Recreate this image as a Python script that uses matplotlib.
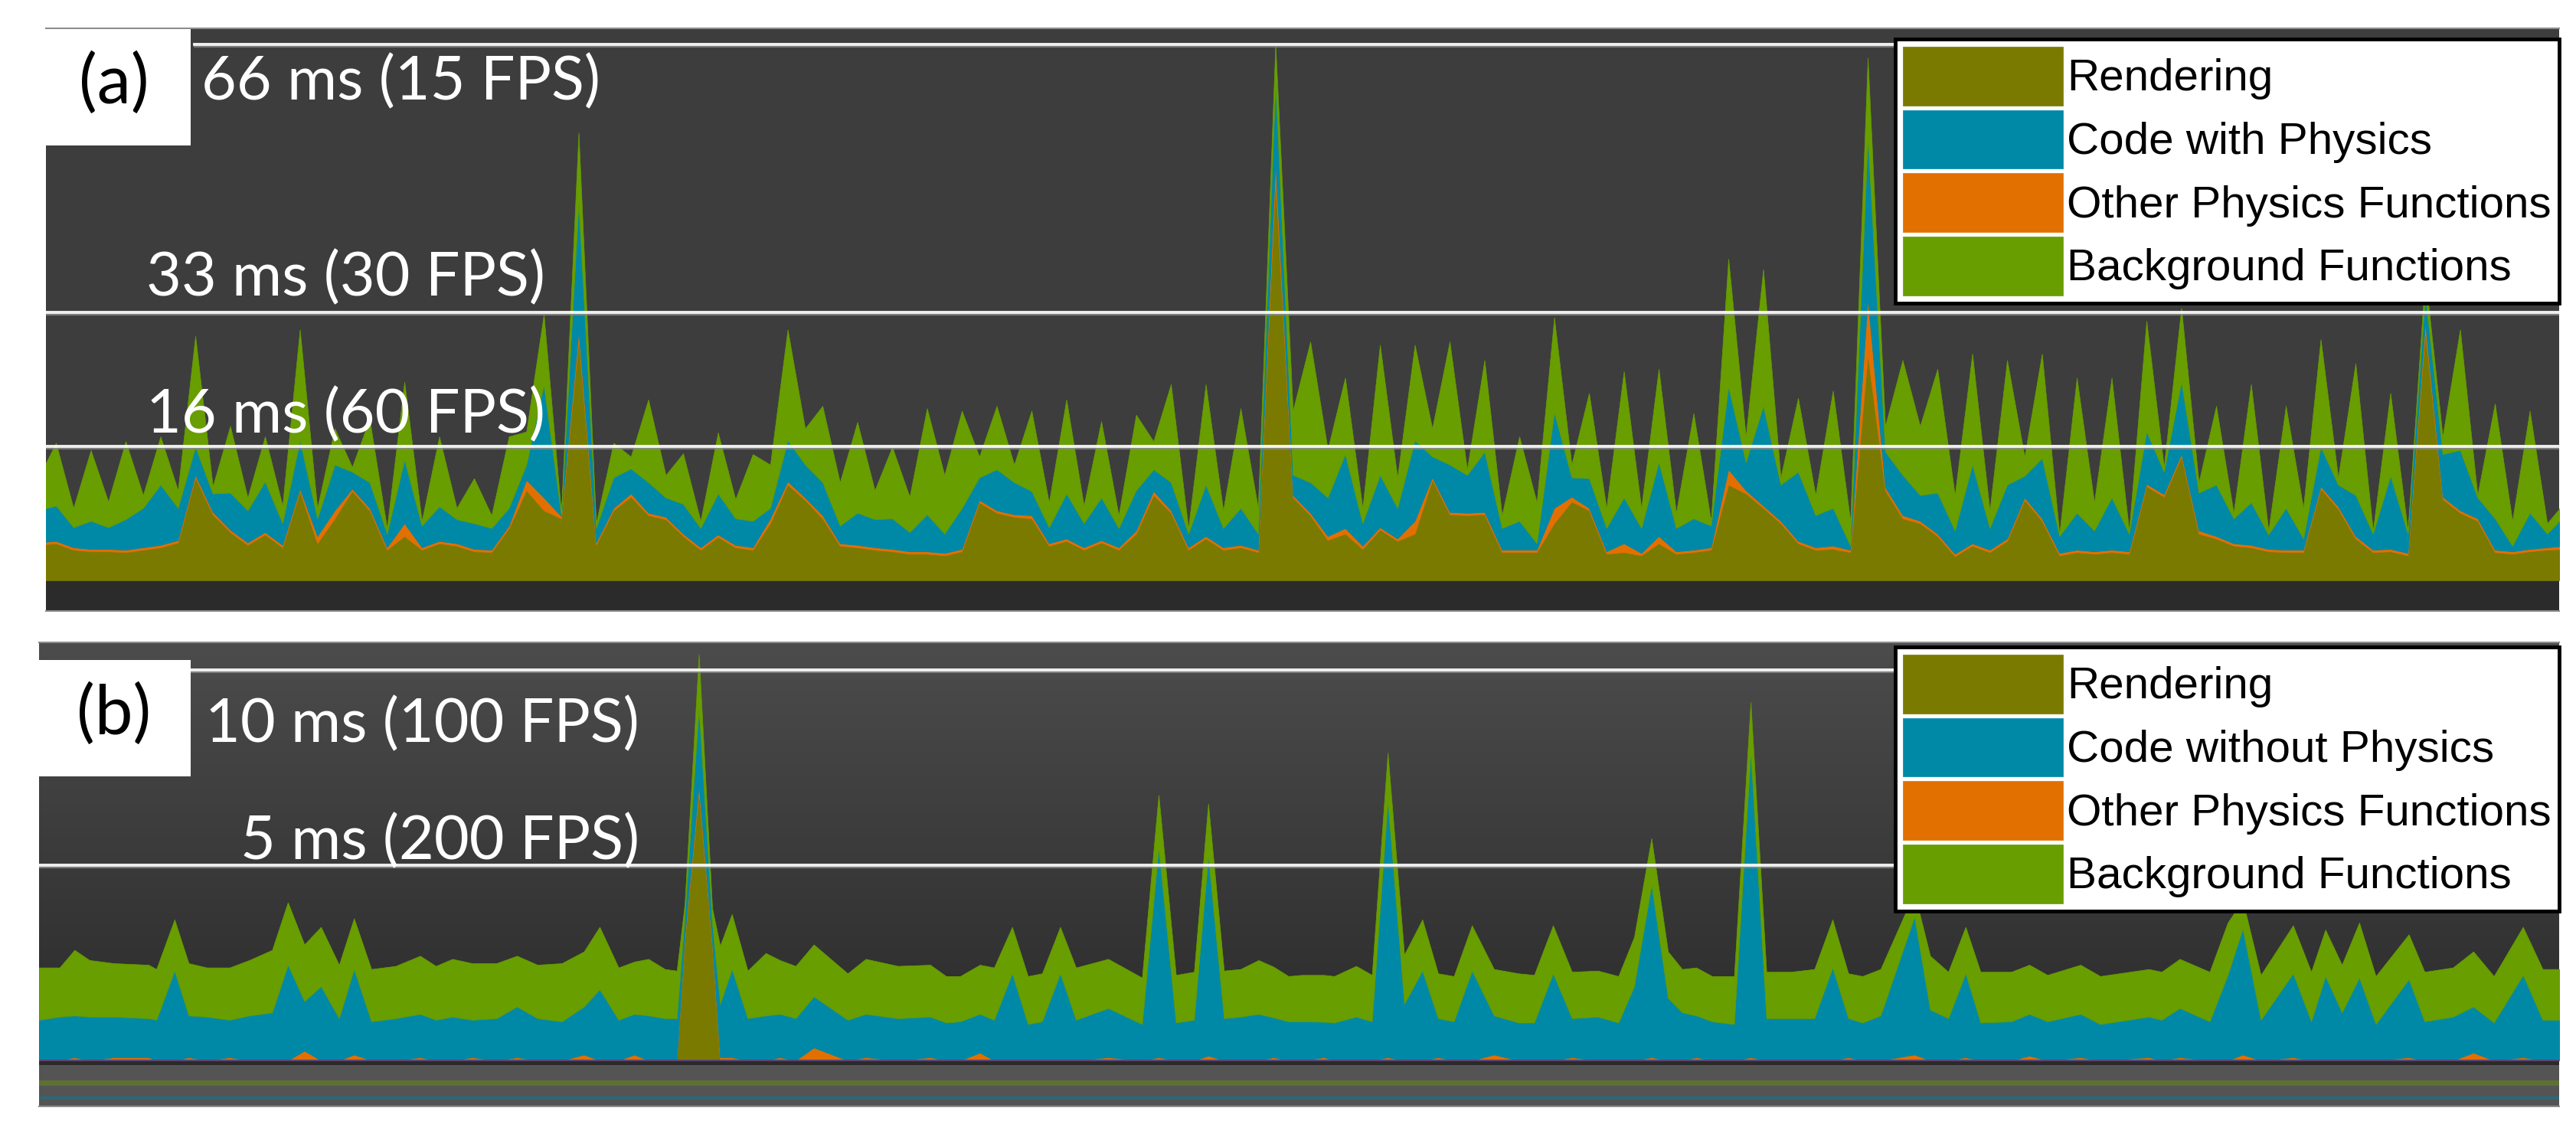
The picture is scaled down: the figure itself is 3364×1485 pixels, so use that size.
import numpy as np
import matplotlib
matplotlib.use("Agg")
import matplotlib.pyplot as plt
from matplotlib.colors import LinearSegmentedColormap
from matplotlib.patches import Rectangle

# ---- panel (a): frame times in ms, stacked tops (rendering, +other physics, +code, +background)
frames_a = np.arange(146)
rendering_a = [4.4, 4.6, 3.8, 3.6, 3.6, 3.5, 3.8, 4.1, 4.7, 12.8,
               8.2, 6.0, 4.4, 5.7, 4.1, 11.1, 4.6, 7.7, 11.1, 8.7,
               3.8, 5.5, 3.8, 4.6, 4.3, 3.6, 3.5, 6.5, 11.2, 8.7,
               7.7, 30.0, 4.4, 8.7, 10.4, 8.1, 7.6, 5.5, 3.8, 5.4,
               4.1, 3.8, 7.1, 11.9, 10.0, 7.7, 4.3, 4.1, 3.8, 3.6,
               3.3, 3.3, 3.1, 3.6, 9.7, 8.4, 7.9, 7.7, 4.3, 4.9,
               3.8, 4.7, 3.8, 5.8, 10.6, 8.4, 3.8, 5.2, 3.8, 4.1,
               3.5, 50.0, 10.3, 8.1, 5.0, 5.8, 3.9, 6.3, 4.9, 5.8,
               12.5, 8.2, 8.1, 8.2, 3.5, 3.5, 3.5, 7.1, 9.8, 8.7,
               3.3, 3.5, 3.1, 4.6, 3.3, 3.5, 3.8, 11.9, 10.8, 9.0,
               7.1, 4.6, 3.8, 3.9, 3.5, 28.0, 11.2, 7.7, 7.1, 5.5,
               3.0, 4.3, 3.5, 4.9, 10.0, 7.4, 3.1, 3.5, 3.3, 3.5,
               3.3, 11.7, 10.4, 15.4, 5.8, 5.2, 4.3, 4.1, 3.6, 3.5,
               3.5, 11.4, 8.9, 5.2, 3.5, 3.6, 3.1, 31.0, 10.1, 8.4,
               7.4, 3.5, 3.3, 3.6, 3.8, 3.9]
other_a = [4.7, 4.9, 4.1, 3.9, 3.9, 3.8, 4.1, 4.4, 5.0, 13.1,
           8.5, 6.3, 4.7, 6.0, 4.4, 11.4, 5.5, 8.7, 11.4, 9.0,
           4.1, 7.1, 4.1, 4.9, 4.6, 3.9, 3.8, 6.8, 12.5, 10.3,
           8.0, 31.0, 4.7, 9.0, 10.8, 8.4, 7.9, 5.8, 4.1, 5.7,
           4.4, 4.1, 7.7, 12.3, 10.3, 8.1, 4.6, 4.4, 4.1, 3.9,
           3.6, 3.6, 3.4, 3.9, 10.0, 8.7, 8.2, 8.1, 4.6, 5.2,
           4.1, 5.0, 4.1, 6.2, 11.1, 8.7, 4.1, 5.5, 4.1, 4.4,
           3.8, 52.0, 10.6, 8.4, 5.5, 6.5, 4.3, 6.6, 5.2, 7.4,
           12.8, 8.5, 8.4, 8.5, 3.8, 3.8, 3.8, 9.0, 10.4, 9.0,
           3.6, 4.6, 3.4, 5.5, 3.6, 3.8, 4.1, 13.8, 11.2, 9.3,
           7.4, 4.9, 4.1, 4.3, 3.8, 35.0, 11.6, 8.1, 7.4, 5.8,
           3.3, 4.6, 3.8, 5.2, 10.3, 7.7, 3.4, 3.8, 3.6, 3.8,
           3.6, 12.0, 10.7, 15.7, 6.2, 5.5, 4.6, 4.4, 3.9, 3.8,
           3.8, 11.7, 9.2, 5.5, 3.8, 3.9, 3.4, 32.0, 10.4, 8.7,
           7.7, 3.8, 3.6, 3.9, 4.1, 4.3]
code_a = [8.7, 9.3, 6.6, 7.4, 6.6, 7.6, 9.0, 11.9, 9.0, 16.6,
          10.8, 10.9, 8.7, 12.3, 7.1, 17.4, 7.7, 14.4, 13.5, 12.2,
          5.8, 15.0, 6.8, 9.2, 7.6, 7.1, 6.5, 9.0, 14.4, 24.3,
          8.1, 47.0, 6.5, 12.8, 13.9, 12.2, 10.3, 9.5, 6.5, 10.8,
          7.7, 7.4, 9.0, 17.4, 14.4, 12.2, 6.8, 8.4, 7.6, 7.7,
          6.0, 8.2, 5.8, 9.0, 12.8, 13.8, 12.2, 11.1, 6.6, 10.8,
          7.1, 10.3, 6.5, 11.2, 13.8, 12.2, 5.8, 11.9, 6.5, 9.0,
          5.8, 62.0, 13.1, 12.2, 10.3, 15.7, 7.1, 13.1, 9.0, 17.4,
          15.4, 14.4, 13.1, 16.0, 6.5, 7.4, 4.6, 20.9, 12.8, 12.7,
          6.5, 10.3, 6.5, 14.7, 6.5, 7.7, 6.8, 24.1, 14.7, 21.7,
          11.9, 13.5, 8.1, 9.0, 4.3, 55.0, 16.0, 13.1, 10.6, 10.9,
          6.2, 14.4, 6.5, 11.9, 13.0, 15.2, 5.5, 8.4, 6.2, 10.3,
          5.8, 18.5, 13.5, 24.7, 10.9, 11.9, 7.7, 9.7, 5.7, 9.0,
          5.2, 16.6, 11.9, 10.6, 5.8, 13.0, 5.8, 35.5, 15.7, 16.2,
          10.3, 7.7, 4.3, 8.4, 5.8, 8.1]
total_a = [12.8, 17.1, 9.0, 16.2, 9.8, 17.3, 10.6, 17.9, 11.2, 30.4,
           11.7, 19.2, 10.3, 17.9, 9.3, 31.2, 9.0, 18.9, 14.1, 20.1,
           6.5, 24.7, 7.4, 17.9, 9.0, 12.7, 8.1, 17.9, 18.5, 33.1,
           8.4, 55.7, 7.1, 17.1, 15.4, 22.5, 13.1, 15.8, 7.4, 18.4,
           10.1, 15.7, 14.4, 31.2, 18.9, 21.7, 12.2, 19.7, 11.2, 16.6,
           10.4, 21.4, 13.1, 21.1, 15.4, 21.7, 14.4, 21.1, 9.7, 22.5,
           9.3, 19.8, 8.1, 20.6, 17.3, 24.4, 6.5, 24.4, 8.7, 21.4,
           9.0, 66.7, 21.1, 29.7, 16.3, 25.2, 9.0, 29.3, 12.8, 29.3,
           18.9, 29.7, 13.8, 27.4, 8.1, 17.9, 9.7, 32.7, 14.4, 23.3,
           9.0, 26.0, 9.0, 26.3, 8.4, 20.8, 7.4, 40.0, 17.9, 38.7,
           12.8, 22.7, 10.6, 23.6, 7.4, 65.0, 19.2, 27.4, 19.2, 26.3,
           10.6, 28.2, 8.7, 27.4, 15.4, 28.2, 5.8, 25.2, 9.7, 25.2,
           6.2, 32.3, 14.1, 33.9, 12.2, 21.7, 8.4, 24.4, 6.2, 21.7,
           9.0, 30.0, 12.8, 27.0, 6.2, 23.3, 6.2, 38.0, 17.9, 31.2,
           10.6, 22.0, 7.4, 21.1, 7.1, 9.7]

# ---- panel (b): same kind of data, frames with physics switched off
frames_b = [0.0, 2.6, 4.5, 6.4, 9.5, 13.9, 14.9, 17.2, 19.0, 21.3,
            24.2, 26.7, 29.6, 31.6, 33.7, 35.8, 38.1, 40.0, 42.2, 45.3,
            48.4, 50.4, 52.5, 55.0, 58.1, 60.7, 63.3, 66.4, 69.2, 71.2,
            73.6, 75.6, 77.4, 79.5, 81.0, 82.0, 83.8, 85.5, 86.5, 88.0,
            90.0, 92.3, 94.1, 96.1, 98.4, 102.7, 105.0, 109.1, 113.2, 115.2,
            117.0, 119.5, 121.3, 123.6, 125.6, 127.4, 129.7, 131.7, 135.8, 140.1,
            142.2, 144.4, 146.7, 148.5, 150.5, 152.6, 154.9, 156.8, 158.7, 160.4,
            163.2, 164.5, 167.3, 169.3, 171.3, 173.4, 175.7, 177.7, 179.7, 182.0,
            184.8, 187.9, 189.9, 192.3, 194.7, 198.0, 200.6, 202.6, 204.8, 206.9,
            208.7, 210.5, 212.5, 215.3, 217.4, 219.4, 222.5, 225.5, 227.8, 229.8,
            231.6, 233.9, 238.2, 240.2, 242.5, 244.7, 246.6, 250.5, 252.8, 255.1,
            259.3, 261.8, 268.0, 269.6, 271.9, 275.7, 278.0, 279.9, 282.2, 286.3,
            288.6, 290.4, 292.5, 294.7, 296.8, 301.0, 303.0, 306.6, 309.2, 311.8,
            315.5, 318.0, 320.3]
rendering_b = [0] * 35 + [3.09, 6.88, 2.94] + [0] * 95
other_b = [0, 0, .08, 0, .08, .08, 0, 0, .08, 0,
           .08, 0, 0, 0, .25, 0, 0, .15, 0, 0,
           .08, 0, 0, .08, 0, .08, 0, 0, .15, 0,
           0, .15, 0, 0, 0, 3.16, 7.03, 3.00, .08, .08,
           0, 0, .08, 0, .33, 0, .08, 0, .08, 0,
           0, .20, 0, 0, 0, 0, 0, 0, .08, 0,
           .08, 0, 0, .12, 0, 0, 0, .08, 0, 0,
           .08, 0, 0, 0, .08, 0, 0, .08, 0, 0,
           .15, 0, 0, 0, .08, 0, 0, 0, .08, 0,
           0, .08, 0, 0, .08, 0, 0, 0, 0, .08,
           0, 0, .15, 0, 0, .08, 0, 0, .12, 0,
           .08, 0, .08, 0, .08, 0, 0, .15, 0, .08,
           0, 0, 0, 0, 0, .08, 0, 0, .20, 0,
           .08, 0, 0]
code_b = [1.04, 1.12, 1.15, 1.12, 1.12, 1.08, 1.04, 2.30, 1.15, 1.12,
          1.04, 1.15, 1.23, 2.45, 1.52, 1.90, 1.08, 2.34, 1.00, 1.08,
          1.19, 1.04, 1.12, 1.04, 1.08, 1.38, 1.08, 1.00, 1.38, 1.82,
          1.04, 1.19, 1.15, 1.08, 1.08, 3.68, 9.03, 3.50, 1.45, 2.34,
          1.08, 1.15, 1.19, 1.08, 1.64, 1.04, 1.19, 1.08, 1.12, 0.97,
          1.00, 1.19, 1.04, 2.23, 0.93, 1.00, 2.23, 1.04, 1.34, 0.93,
          5.46, 0.97, 1.04, 5.24, 1.08, 1.12, 1.19, 1.10, 1.00, 1.00,
          0.99, 0.97, 1.12, 1.00, 6.65, 1.45, 2.30, 1.08, 1.00, 2.30,
          1.15, 0.97, 0.97, 2.23, 1.08, 1.12, 0.97, 1.90, 4.50, 1.60,
          1.23, 1.15, 1.00, 0.93, 7.92, 1.08, 1.08, 1.08, 2.38, 1.08,
          0.97, 1.15, 3.68, 1.30, 1.08, 2.23, 0.97, 1.00, 1.19, 1.00,
          1.19, 0.93, 1.12, 1.04, 1.34, 1.00, 2.19, 3.38, 1.04, 2.23,
          1.00, 2.16, 1.23, 2.12, 0.93, 2.08, 1.00, 1.12, 1.38, 0.97,
          2.19, 1.04, 1.04]
total_b = [2.38, 2.38, 2.83, 2.57, 2.49, 2.45, 2.34, 3.61, 2.49, 2.38,
           2.38, 2.57, 2.83, 4.05, 2.97, 3.42, 2.45, 3.64, 2.34, 2.42,
           2.68, 2.42, 2.60, 2.49, 2.49, 2.68, 2.45, 2.49, 2.79, 3.42,
           2.38, 2.53, 2.60, 2.34, 2.30, 4.00, 10.40, 3.90, 2.94, 3.75,
           2.30, 2.75, 2.57, 2.42, 2.97, 2.23, 2.60, 2.42, 2.45, 2.16,
           2.16, 2.45, 2.38, 3.42, 2.16, 2.23, 3.42, 2.38, 2.60, 2.12,
           6.80, 2.19, 2.27, 6.58, 2.30, 2.34, 2.57, 2.40, 2.16, 2.19,
           2.19, 2.16, 2.42, 2.19, 7.88, 2.71, 3.61, 2.23, 2.16, 3.46,
           2.34, 2.23, 2.19, 3.46, 2.27, 2.30, 2.16, 3.16, 5.69, 2.79,
           2.34, 2.38, 2.16, 2.16, 9.18, 2.27, 2.27, 2.34, 3.61, 2.23,
           2.16, 2.34, 4.30, 2.68, 2.27, 3.42, 2.27, 2.27, 2.45, 2.19,
           2.45, 2.16, 2.34, 2.27, 2.60, 2.27, 3.53, 4.10, 2.19, 3.46,
           2.27, 3.35, 2.45, 3.53, 2.16, 3.23, 2.27, 2.38, 2.79, 2.16,
           3.42, 2.34, 2.34]

labels_a = ["Rendering", "Other Physics Functions", "Code with Physics", "Background Functions"]
labels_b = ["Rendering", "Other Physics Functions", "Code without Physics", "Background Functions"]
fps_a = [15, 30, 60]
fps_b = [100, 200]

OLIVE, ORANGE, TEAL, GREEN = "#7a7a00", "#e27000", "#0089a7", "#689e00"
W, H = 3364, 1485


def layers(*tops):
    tops = [np.asarray(t, float) for t in tops]
    return [tops[0]] + [b - a for a, b in zip(tops, tops[1:])]


def fx(px):
    return px / W


def fy(px):
    return 1 - px / H


fig = plt.figure(figsize=(W / 100, H / 100), dpi=100)
fig.patch.set_facecolor("white")

ax_a = fig.add_axes([fx(60), fy(798), 3282 / W, (798 - 36.6) / H])
ax_b = fig.add_axes([fx(51), fy(1445), 3291 / W, (1445 - 839) / H])

for ax in (ax_a, ax_b):
    ax.set_xticks([])
    ax.set_yticks([])
    for side in ("left", "right"):
        ax.spines[side].set_visible(False)
    for side in ("top", "bottom"):
        ax.spines[side].set_color("#8c8c8c")
        ax.spines[side].set_linewidth(1.5)

# panel (a) background
ax_a.set_facecolor("#3d3d3d")
ax_a.axhspan(-10, 0, color="#2b2b2b", lw=0, zorder=0)

# panel (b) background gradient
grad = LinearSegmentedColormap.from_list("bg", ["#2a2a2a", "#4c4c4c"])
ax_b.imshow(np.linspace(1, 0, 256)[:, None], extent=(0, 320.1, 0, 10.706),
            cmap=grad, aspect="auto", zorder=0, interpolation="bilinear")
ax_b.axhspan(-0.12, 0, color="#2a2a2a", lw=0, zorder=0)
ax_b.axhspan(-2, -0.12, color="#545454", lw=0, zorder=0)
ax_b.axhline(-0.56, color="#5e7133", lw=5, zorder=1)
ax_b.axhline(-0.96, color="#2d6877", lw=3, zorder=1)

colors = [OLIVE, ORANGE, TEAL, GREEN]
polys_a = ax_a.stackplot(frames_a, *layers(rendering_a, other_a, code_a, total_a),
                         colors=colors, labels=labels_a, zorder=2)
polys_b = ax_b.stackplot(frames_b, *layers(rendering_b, other_b, code_b, total_b),
                         colors=colors, labels=labels_b, zorder=2)
for p in polys_a + polys_b:
    p.set_edgecolor(p.get_facecolor())
    p.set_linewidth(0.5)
ax_b.axhline(0, color="#5d4372", lw=1.5, zorder=3)

ax_a.set_xlim(0.426, 144.69)
ax_a.set_ylim(-3.81, 68.70)
ax_b.set_xlim(0, 320.1)
ax_b.set_ylim(-1.176, 10.706)

# frame-budget lines
line_start_a = [(254 - 60) / 3282, 0, 0]
for fps, x0 in zip(fps_a, line_start_a):
    y = 1000 / fps
    ax_a.axhline(y - 0.25, xmin=x0, color="#8c8c8c", lw=1.6, alpha=0.8, zorder=4)
    ax_a.axhline(y, xmin=x0, color="white", lw=2.8, alpha=0.92, zorder=5)
line_start_b = [(249 - 51) / 3291, 0]
for fps, x0 in zip(fps_b, line_start_b):
    y = 1000 / fps
    ax_b.axhline(y - 0.05, xmin=x0, color="#8c8c8c", lw=1.6, alpha=0.8, zorder=4)
    ax_b.axhline(y, xmin=x0, color="white", lw=2.8, alpha=0.92, zorder=5)

label_pos_a = [(784, 130), (712, 386), (712, 565)]
for fps, (px, py) in zip(fps_a, label_pos_a):
    fig.text(fx(px), fy(py), f"{int(1000 / fps)} ms ({fps} FPS)", color="white",
             fontsize=57, family="Lato", ha="right", va="baseline", zorder=6)
label_pos_b = [(835, 969), (835, 1122)]
for fps, (px, py) in zip(fps_b, label_pos_b):
    fig.text(fx(px), fy(py), f"{int(1000 / fps)} ms ({fps} FPS)", color="white",
             fontsize=57, family="Lato", ha="right", va="baseline", zorder=6)

# panel tags
for (x0, y0, x1, y1), tag in [((60, 38, 249, 190), "(a)"), ((51, 862, 249, 1014), "(b)")]:
    fig.add_artist(Rectangle((fx(x0), fy(y1)), (x1 - x0) / W, (y1 - y0) / H,
                             transform=fig.transFigure, facecolor="white",
                             edgecolor="none", zorder=6))
    fig.text(fx(149), fy((y0 + y1) / 2 - 4), tag, color="black", fontsize=64,
             family="Lato", ha="center", va="center", zorder=7)

# legends (order: Rendering, Code, Other, Background)
for polys, top in [(polys_a, 51), (polys_b, 845)]:
    handles = [polys[0], polys[2], polys[1], polys[3]]
    leg = fig.legend(handles=handles, labels=[h.get_label() for h in handles],
                     loc="upper right", bbox_to_anchor=(fx(3342), fy(top)),
                     prop={"family": "Liberation Sans", "size": 42},
                     handlelength=3.57, handleheight=1.65, handletextpad=0.1,
                     labelspacing=0.1, borderpad=0.17, borderaxespad=0,
                     fancybox=False, framealpha=1, edgecolor="black")
    leg.get_frame().set_linewidth(3.5)
    leg.set_zorder(8)

fig.savefig("out.png", dpi=100, facecolor="white")
